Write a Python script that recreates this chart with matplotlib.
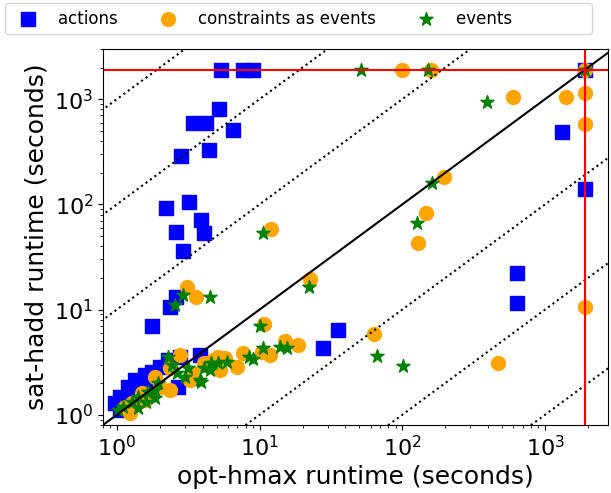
import matplotlib
matplotlib.use('Agg')
import matplotlib.pyplot as plt
import numpy as np

timeout = 1900

act_x = [5.35, 7.6, 9.0, 5.2, 3.4, 4.2, 6.5, 4.4, 2.8, 2.2, 3.2, 3.9, 2.6, 4.1, 2.9,
         1.76, 2.35, 2.6, 35.4, 27.8, 1313, 1900, 1900, 635, 640,
         0.97, 1.05, 1.19, 1.34, 1.57, 1.76, 2.0, 2.28, 2.76, 3.82, 2.67, 1.05, 1.7, 1.3, 1.5]
act_y = [1900, 1900, 1900, 811, 597, 597, 512, 330, 290, 93, 106, 71, 55, 53, 36,
         7.0, 10.6, 13.2, 6.4, 4.3, 490, 141, 1900, 22.4, 11.6,
         1.30, 1.48, 1.85, 2.15, 2.40, 2.56, 2.86, 3.33, 3.56, 3.72, 1.85, 1.12, 1.93, 1.5, 1.7]

cae_x = [99, 160, 1900, 596, 1400, 1900, 1900, 196, 146, 129, 1900, 468, 63, 12, 22.5,
         10.7, 18.5, 15, 11.8, 10.4, 7.6, 3.1, 3.6, 2.76, 2.35, 1.85, 2.35, 3.25, 4.1, 5.1,
         5.3, 1.5, 1.27, 1.23, 1.14, 1.57, 3.35, 5.7, 6.9, 4.7, 4.1, 2.0]
cae_y = [1900, 1900, 1900, 1054, 1050, 1150, 584, 183, 82, 43, 10.6, 3.1, 5.9, 58.6, 19.6,
         7.3, 4.6, 5.0, 3.7, 3.97, 3.9, 16.5, 13.2, 3.7, 2.8, 2.3, 1.73, 2.15, 2.98, 3.56,
         2.67, 1.6, 1.3, 1.05, 1.19, 1.39, 2.5, 3.5, 2.86, 3.33, 3.1, 1.85]

ev_x = [51, 151, 1900, 392, 161, 127, 10.5, 22.2, 10, 66, 101, 10.6, 13.9, 15.5, 8.5,
        9, 5.9, 5.1, 4.5, 3.9, 2.55, 2.9, 4.5, 2.28, 2.43, 2.63, 3.0, 3.8, 3.15, 4.1,
        4.6, 1.85, 1.94, 1.65, 1.4, 1.27, 1.1, 1.02, 1.4, 1.85, 1.6]
ev_y = [1900, 1900, 1900, 945, 160, 67, 53, 16.5, 7.0, 3.6, 2.9, 4.33, 4.43, 4.33, 3.56,
        3.4, 3.2, 3.1, 2.67, 2.06, 11, 13.8, 13.3, 3.56, 2.98, 2.5, 2.3, 2.15, 2.8, 2.8,
        3.1, 1.73, 2.0, 1.65, 1.48, 1.33, 1.19, 1.12, 1.17, 1.45, 1.33]

lo, hi_x, hi_y = 0.8, 2760, 3000

fig = plt.figure(figsize=(6.11, 4.93), dpi=100)
ax = fig.add_axes([0.1686, 0.138, 0.8264, 0.7626])

ax.scatter(act_x, act_y, marker='s', s=100, c='blue', label='actions')
ax.scatter(cae_x, cae_y, marker='o', s=100, c='orange', label='constraints as events')
# trailing spaces keep the legend frame running off the right edge like the original
ax.scatter(ev_x, ev_y, marker='*', s=100, c='green', label='events' + ' ' * 14)

ax.set_xscale('log')
ax.set_yscale('log')

line = np.array([0.1, 100000])
ax.plot(line, line, color='black', lw=1.5)
for k in [1, 2, 3]:
    ax.plot(line, line * 10**k, color='black', ls=':', lw=1.5)
    ax.plot(line, line / 10**k, color='black', ls=':', lw=1.5)

ax.axhline(timeout, color='red', lw=1.5)
ax.axvline(timeout, color='red', lw=1.5)

ax.set_xlim(lo, hi_x)
ax.set_ylim(lo, hi_y)
ax.set_xlabel('opt-hmax runtime (seconds)', fontsize=18)
ax.set_ylabel('sat-hadd runtime (seconds)', fontsize=18)
ax.tick_params(labelsize=16)

fig.legend(loc='upper left', bbox_to_anchor=(5 / 611, 1 - 3 / 493), ncol=3,
           fontsize=12, scatterpoints=1, borderaxespad=0)

fig.savefig('out.png', dpi=100)
